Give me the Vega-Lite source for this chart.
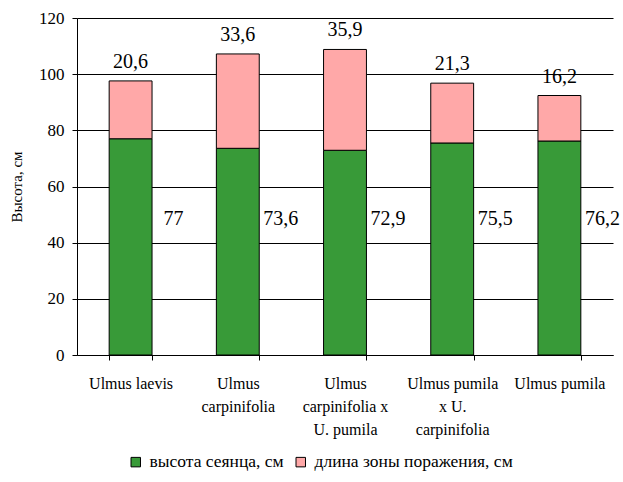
{
  "$schema": "https://vega.github.io/schema/vega-lite/v6.json",
  "width": 536,
  "height": 337,
  "autosize": {"type": "none"},
  "padding": {"left": 77, "top": 18, "right": 10, "bottom": 127},
  "config": {
    "font": "Times New Roman, Liberation Serif, DejaVu Serif, serif",
    "view": {"stroke": null},
    "axis": {"labelFont": "Times New Roman, Liberation Serif, DejaVu Serif, serif", "titleFont": "Times New Roman, Liberation Serif, DejaVu Serif, serif"},
    "legend": {"labelFont": "Times New Roman, Liberation Serif, DejaVu Serif, serif", "titleFont": "Times New Roman, Liberation Serif, DejaVu Serif, serif"},
    "text": {"font": "Times New Roman, Liberation Serif, DejaVu Serif, serif"},
    "locale": {"number": {"decimal": ",", "thousands": " ", "grouping": [3], "currency": ["", ""]}}
  },
  "data": {
    "values": [
      {"species": "Ulmus laevis", "series": "высота сеянца, см", "value": 77},
      {"species": "Ulmus laevis", "series": "длина зоны поражения, см", "value": 20.6},
      {"species": "Ulmus|carpinifolia", "series": "высота сеянца, см", "value": 73.6},
      {"species": "Ulmus|carpinifolia", "series": "длина зоны поражения, см", "value": 33.6},
      {"species": "Ulmus|carpinifolia x|U. pumila", "series": "высота сеянца, см", "value": 72.9},
      {"species": "Ulmus|carpinifolia x|U. pumila", "series": "длина зоны поражения, см", "value": 35.9},
      {"species": "Ulmus pumila|x U.|carpinifolia", "series": "высота сеянца, см", "value": 75.5},
      {"species": "Ulmus pumila|x U.|carpinifolia", "series": "длина зоны поражения, см", "value": 21.3},
      {"species": "Ulmus pumila", "series": "высота сеянца, см", "value": 76.2},
      {"species": "Ulmus pumila", "series": "длина зоны поражения, см", "value": 16.2}
    ]
  },
  "encoding": {
    "x": {
      "field": "species",
      "type": "nominal",
      "sort": null,
      "scale": {"paddingInner": 0.6, "paddingOuter": 0.3},
      "axis": {
        "title": null,
        "labelAngle": 0,
        "labelFontSize": 16,
        "labelLineHeight": 23,
        "labelPadding": 15,
        "labelColor": "#000",
        "labelLimit": 0,
        "labelExpr": "split(datum.label, '|')",
        "domainColor": "#000",
        "tickColor": "#000",
        "tickSize": 5,
        "tickBand": "extent"
      }
    }
  },
  "layer": [
    {
      "mark": {"type": "bar", "stroke": "#000", "strokeWidth": 1},
      "encoding": {
        "y": {
          "field": "value",
          "type": "quantitative",
          "stack": "zero",
          "scale": {"domain": [0, 120]},
          "axis": {
            "values": [0, 20, 40, 60, 80, 100, 120],
            "grid": true,
            "gridColor": "#000",
            "gridOpacity": 1,
            "domainColor": "#000",
            "tickColor": "#000",
            "tickSize": 5,
            "labelFontSize": 17,
            "labelPadding": 8,
            "labelColor": "#000",
            "title": "Высота, см",
            "titleFontSize": 15,
            "titleFontWeight": "normal",
            "titleColor": "#000",
            "titlePadding": 14
          }
        },
        "color": {
          "field": "series",
          "type": "nominal",
          "scale": {"domain": ["высота сеянца, см", "длина зоны поражения, см"], "range": ["#389a38", "#ffa8a8"]},
          "legend": {
            "orient": "none",
            "legendX": 50,
            "legendY": 435,
            "direction": "horizontal",
            "title": null,
            "symbolType": "square",
            "symbolSize": 90,
            "symbolStrokeColor": "#000",
            "symbolStrokeWidth": 1,
            "labelFontSize": 17.5,
            "labelLimit": 400,
            "labelColor": "#000",
            "labelOffset": 5,
            "columnPadding": 8
          }
        },
        "order": {"field": "series", "sort": "ascending"}
      }
    },
    {
      "transform": [
        {"stack": "value", "groupby": ["species"], "sort": [{"field": "series"}], "as": ["v0", "v1"]},
        {"filter": "datum.series == 'длина зоны поражения, см'"}
      ],
      "mark": {"type": "text", "fontSize": 20, "dy": -19, "baseline": "middle", "color": "#000"},
      "encoding": {
        "y": {"field": "v1", "type": "quantitative"},
        "text": {"field": "value", "type": "quantitative", "format": "~g"}
      }
    },
    {
      "transform": [
        {"filter": "datum.series == 'высота сеянца, см'"}
      ],
      "mark": {"type": "text", "fontSize": 20, "dx": 43, "baseline": "middle", "color": "#000"},
      "encoding": {
        "y": {"datum": 48.5, "type": "quantitative"},
        "text": {"field": "value", "type": "quantitative", "format": "~g"}
      }
    }
  ]
}
